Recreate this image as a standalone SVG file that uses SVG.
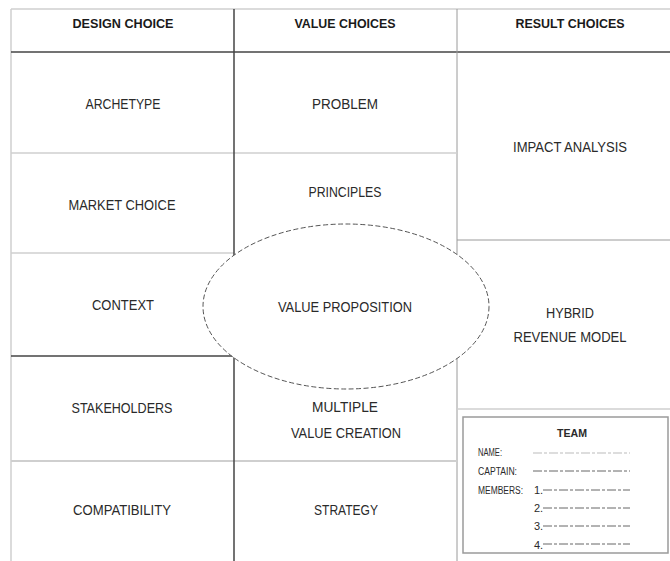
<svg xmlns="http://www.w3.org/2000/svg" width="670" height="561" viewBox="0 0 670 561">
<style>
.t{font-family:"Liberation Sans",Arial,sans-serif;font-size:14.5px;fill:#2a2a2a;text-anchor:middle}
.h{font-weight:bold;font-size:13.5px;fill:#1a1a1a}
.s{font-family:"Liberation Sans",Arial,sans-serif;font-size:11px;fill:#2a2a2a}
.lt{stroke:#cfcfcf;stroke-width:1.5;fill:none}
.dk{stroke:#444;stroke-width:1.5;fill:none}
.md{stroke:#9a9a9a;stroke-width:1;fill:none}
.blank{stroke:#666;stroke-width:1;stroke-dasharray:9 2 3 2}
</style>
<rect width="670" height="561" fill="#fff"/>
<g id="grid">
<line class="lt" x1="11" y1="9" x2="670" y2="9"/>
<line class="lt" x1="11" y1="9" x2="11" y2="561"/>
<line class="dk" x1="11" y1="52" x2="670" y2="52"/>
<line class="md" x1="457" y1="9" x2="457" y2="561"/>
<line class="lt" x1="11" y1="153" x2="457" y2="153"/>
<line class="lt" x1="11" y1="253" x2="234" y2="253"/>
<line class="dk" x1="11" y1="356" x2="234" y2="356"/>
<line class="lt" x1="11" y1="461" x2="457" y2="461" style="stroke-width:2"/>
<line class="md" x1="457" y1="240" x2="670" y2="240"/>
<line class="lt" x1="457" y1="409" x2="670" y2="409"/>
<line class="dk" x1="234" y1="9" x2="234" y2="561"/>
</g>
<g id="headers">
<text class="t h" x="123" y="28" textLength="101" lengthAdjust="spacingAndGlyphs">DESIGN CHOICE</text>
<text class="t h" x="345" y="28" textLength="101" lengthAdjust="spacingAndGlyphs">VALUE CHOICES</text>
<text class="t h" x="570" y="28" textLength="109" lengthAdjust="spacingAndGlyphs">RESULT CHOICES</text>
</g>
<g id="archetype"><text class="t" x="123" y="109" textLength="75" lengthAdjust="spacingAndGlyphs">ARCHETYPE</text></g>
<g id="market-choice"><text class="t" x="122" y="210" textLength="107" lengthAdjust="spacingAndGlyphs">MARKET CHOICE</text></g>
<g id="context"><text class="t" x="123" y="310" textLength="62" lengthAdjust="spacingAndGlyphs">CONTEXT</text></g>
<g id="stakeholders"><text class="t" x="122" y="413" textLength="101" lengthAdjust="spacingAndGlyphs">STAKEHOLDERS</text></g>
<g id="compatibility"><text class="t" x="122" y="515" textLength="98" lengthAdjust="spacingAndGlyphs">COMPATIBILITY</text></g>
<g id="problem"><text class="t" x="345" y="109" textLength="66" lengthAdjust="spacingAndGlyphs">PROBLEM</text></g>
<g id="principles"><text class="t" x="345" y="197" textLength="73" lengthAdjust="spacingAndGlyphs">PRINCIPLES</text></g>
<g id="multiple-value-creation">
<text class="t" x="345" y="412" textLength="66" lengthAdjust="spacingAndGlyphs">MULTIPLE</text>
<text class="t" x="346" y="438" textLength="110" lengthAdjust="spacingAndGlyphs">VALUE CREATION</text>
</g>
<g id="strategy"><text class="t" x="346" y="515" textLength="64" lengthAdjust="spacingAndGlyphs">STRATEGY</text></g>
<g id="impact-analysis"><text class="t" x="570" y="152" textLength="114" lengthAdjust="spacingAndGlyphs">IMPACT ANALYSIS</text></g>
<g id="hybrid-revenue-model">
<text class="t" x="570" y="318" textLength="48" lengthAdjust="spacingAndGlyphs">HYBRID</text>
<text class="t" x="570" y="342" textLength="113" lengthAdjust="spacingAndGlyphs">REVENUE MODEL</text>
</g>
<g id="value-proposition">
<ellipse cx="346" cy="306.5" rx="143" ry="82.5" fill="#fff" stroke="#555" stroke-width="1" stroke-dasharray="5 2.5"/>
<text class="t" x="345" y="312" textLength="134" lengthAdjust="spacingAndGlyphs">VALUE PROPOSITION</text>
</g>
<g id="team">
<rect x="463" y="417" width="205" height="136" fill="#fff" stroke="#9a9a9a" stroke-width="1.5"/>
<text class="s" x="572" y="437" text-anchor="middle" font-weight="bold" textLength="30" lengthAdjust="spacingAndGlyphs">TEAM</text>
<text class="s" x="478" y="456" textLength="24" lengthAdjust="spacingAndGlyphs">NAME:</text>
<text class="s" x="478" y="475" textLength="39" lengthAdjust="spacingAndGlyphs">CAPTAIN:</text>
<text class="s" x="478" y="494" textLength="45" lengthAdjust="spacingAndGlyphs" style="font-size:10px">MEMBERS:</text>
<text class="s" x="534" y="494">1.</text>
<text class="s" x="534" y="512">2.</text>
<text class="s" x="534" y="530">3.</text>
<text class="s" x="534" y="549">4.</text>
<line class="blank" x1="533" y1="453" x2="630" y2="453" style="stroke:#bbb"/>
<line class="blank" x1="533" y1="471" x2="630" y2="471"/>
<line class="blank" x1="543" y1="490" x2="630" y2="490"/>
<line class="blank" x1="543" y1="508" x2="630" y2="508"/>
<line class="blank" x1="543" y1="526" x2="630" y2="526"/>
<line class="blank" x1="543" y1="544" x2="630" y2="544"/>
</g>
</svg>
